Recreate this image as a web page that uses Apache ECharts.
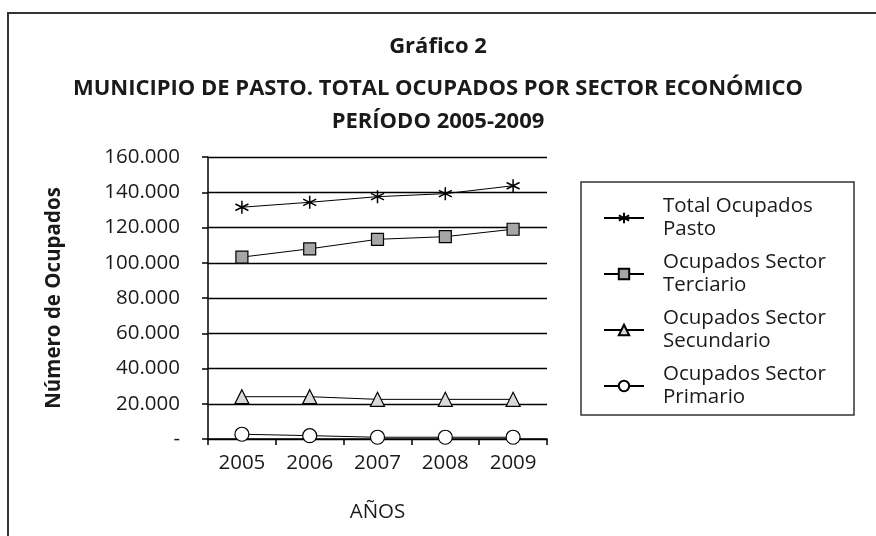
<!DOCTYPE html>
<html>
<head>
<meta charset="utf-8">
<script src="https://cdn.jsdelivr.net/npm/echarts@6/dist/echarts.min.js"></script>
<style>
  html, body { margin: 0; padding: 0; background: #fff; }
  #chart { width: 876px; height: 536px; }
</style>
</head>
<body>
<div id="chart"></div>
<script>
// datos
var years = ['2005', '2006', '2007', '2008', '2009'];
var totalPasto = [131500, 134300, 137500, 139200, 143700];
var terciario = [103200, 107900, 113300, 114800, 119000];
var secundario = [24000, 24000, 22500, 22500, 22500];
var primario = [2700, 1900, 1000, 1000, 1000];
var yTicks = { min: 0, max: 160000, step: 20000 };

var FONT = '"Open Sans", "Noto Sans", sans-serif';

function miles(v) {
  if (v === 0) return '-';
  return String(v).replace(/\B(?=(\d{3})+(?!\d))/g, '.');
}

var chart = echarts.init(document.getElementById('chart'));

var titleStyle = { fontFamily: FONT, fontSize: 22, fontWeight: 'bold', color: '#1a1a1a' };

var option = {
  backgroundColor: '#fff',
  textStyle: { fontFamily: FONT, color: '#1a1a1a' },
  title: [
    { text: 'Gráfico 2', left: 'center', top: 31, textStyle: titleStyle },
    { text: 'MUNICIPIO DE PASTO. TOTAL OCUPADOS POR SECTOR ECONÓMICO', left: 'center', top: 73, textStyle: titleStyle },
    { text: 'PERÍODO 2005-2009', left: 'center', top: 106, textStyle: titleStyle }
  ],
  graphic: [
    { type: 'rect', shape: { x: 8, y: 13, width: 900, height: 600 },
      style: { fill: 'none', stroke: '#333', lineWidth: 2 }, silent: true },
    { type: 'rect', shape: { x: 581, y: 182, width: 273, height: 233 },
      style: { fill: 'none', stroke: '#333', lineWidth: 1.5 }, silent: true }
  ],
  legend: {
    orient: 'vertical',
    left: 598,
    top: 190,
    itemWidth: 40,
    itemHeight: 13,
    itemGap: 10,
    textStyle: { fontFamily: FONT, fontSize: 20.5, color: '#1a1a1a', lineHeight: 23, padding: [0, 0, 0, 14] },
    formatter: function (name) {
      var i = name.lastIndexOf(' ');
      return name.slice(0, i) + '\n' + name.slice(i + 1);
    }
  },
  grid: { left: 208, right: 329, top: 157, bottom: 97 },
  xAxis: {
    type: 'category',
    data: years,
    boundaryGap: true,
    name: 'AÑOS',
    nameLocation: 'middle',
    nameGap: 63,
    nameTextStyle: { fontFamily: FONT, fontSize: 20.5, color: '#1a1a1a' },
    axisLine: { lineStyle: { color: '#000', width: 1.5 } },
    axisTick: { show: true, length: 6, lineStyle: { color: '#000', width: 1.5 } },
    axisLabel: { margin: 14, fontFamily: FONT, fontSize: 20.5, color: '#1a1a1a' }
  },
  yAxis: {
    type: 'value',
    min: yTicks.min,
    max: yTicks.max,
    interval: yTicks.step,
    name: 'Número de Ocupados',
    nameLocation: 'middle',
    nameGap: 143,
    nameTextStyle: { fontFamily: FONT, fontSize: 20.5, fontWeight: 'bold', color: '#1a1a1a' },
    axisLine: { show: true, lineStyle: { color: '#000', width: 1.5 } },
    axisTick: { show: true, length: 6, lineStyle: { color: '#000', width: 1.5 } },
    splitLine: { lineStyle: { color: '#000', width: 1.4 } },
    axisLabel: { margin: 28, fontFamily: FONT, fontSize: 20.5, color: '#1a1a1a', formatter: miles }
  },
  series: [
    {
      name: 'Total Ocupados Pasto',
      type: 'line',
      data: totalPasto,
      symbol: 'path://M0,-6L0,6M-5.2,-3L5.2,3M-5.2,3L5.2,-3',
      symbolSize: 13,
      lineStyle: { color: '#000', width: 1 },
      itemStyle: { color: 'none', borderColor: '#000', borderWidth: 1.5 }
    },
    {
      name: 'Ocupados Sector Terciario',
      type: 'line',
      data: terciario,
      symbol: 'rect',
      symbolSize: 12,
      lineStyle: { color: '#000', width: 1 },
      itemStyle: { color: '#a6a6a6', borderColor: '#000', borderWidth: 1.2 }
    },
    {
      name: 'Ocupados Sector Secundario',
      type: 'line',
      data: secundario,
      symbol: 'triangle',
      symbolSize: 14,
      lineStyle: { color: '#000', width: 1 },
      itemStyle: { color: '#d9d9d9', borderColor: '#000', borderWidth: 1.2 }
    },
    {
      name: 'Ocupados Sector Primario',
      type: 'line',
      data: primario,
      symbol: 'circle',
      symbolSize: 14,
      lineStyle: { color: '#000', width: 1 },
      itemStyle: { color: '#fff', borderColor: '#000', borderWidth: 1.2 }
    }
  ]
};

chart.setOption(option);
</script>
</body>
</html>
